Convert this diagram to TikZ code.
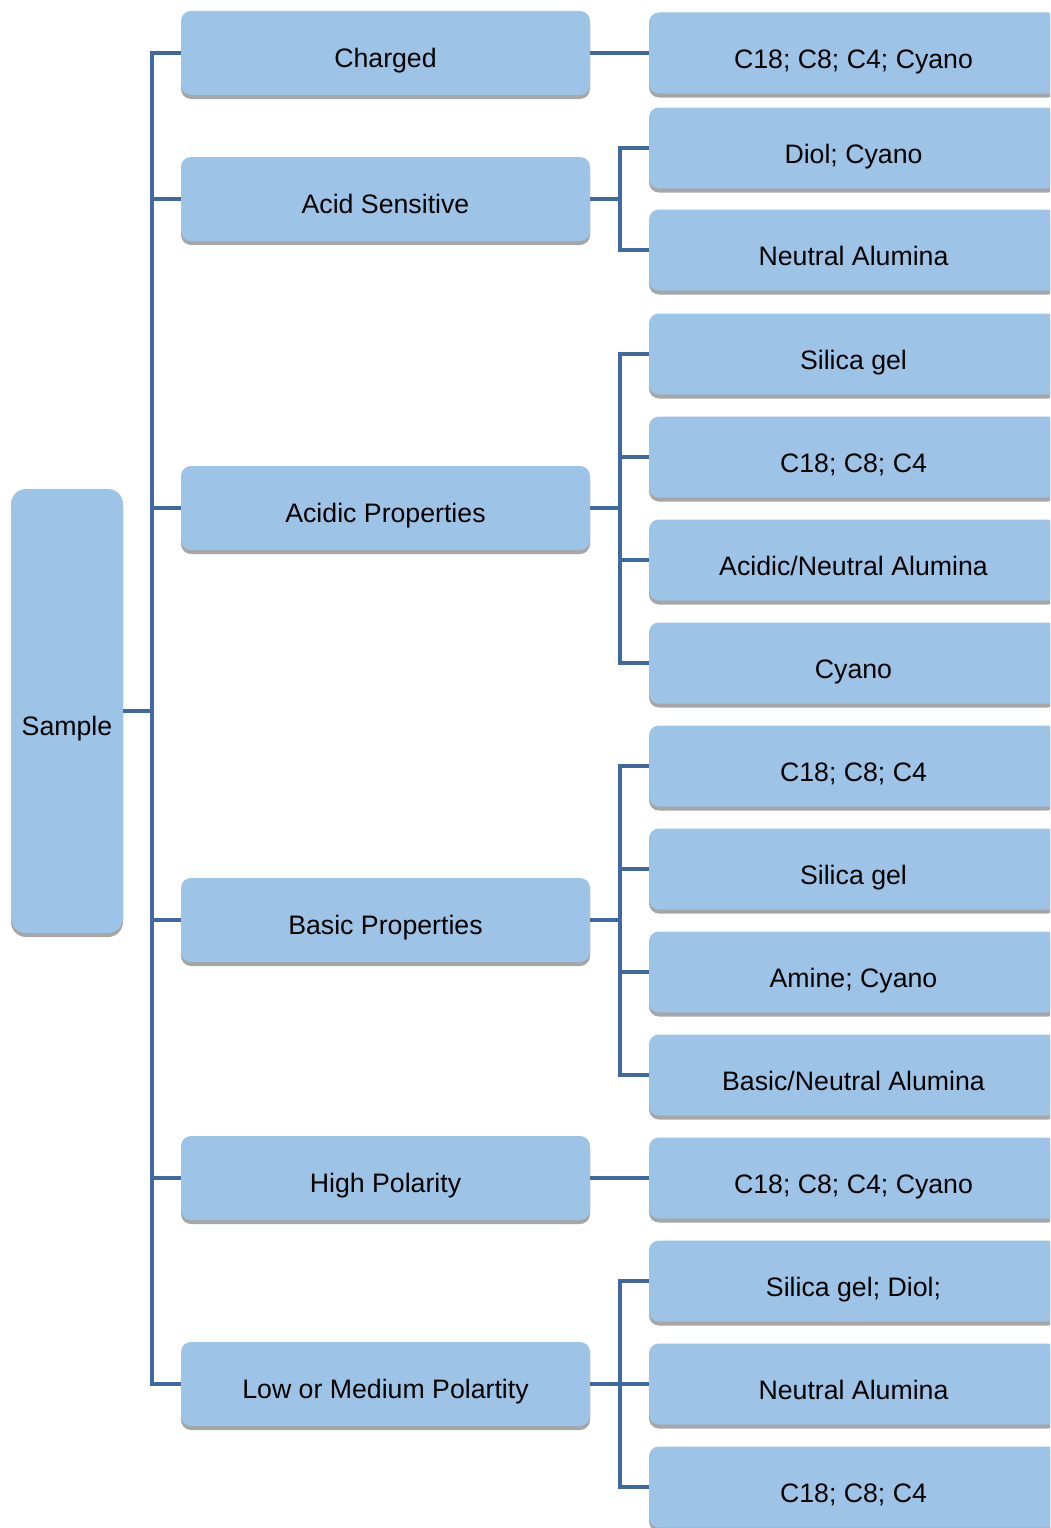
\documentclass[tikz,border=0pt]{standalone}
\usepackage{fontspec}
\setmainfont{Liberation Sans}
\usetikzlibrary{shadows}
\definecolor{boxfill}{RGB}{157,195,230}
\definecolor{connblue}{RGB}{64,106,158}
\definecolor{shadowgray}{RGB}{166,166,166}
\begin{document}
\begin{tikzpicture}[x=1pt,y=-1pt,
  base/.style={fill=boxfill, draw=none, rounded corners=10pt, inner sep=0pt,
    font=\fontsize{26.7}{30}\selectfont, text depth=0pt,
    drop shadow={shadow xshift=0pt, shadow yshift=-4pt, fill=shadowgray, opacity=1}},
  midbox/.style={base, minimum width=409pt, minimum height=84pt, text height=28pt},
  leafbox/.style={base, minimum width=409pt, minimum height=81pt, text height=31pt},
  rootbox/.style={base, rounded corners=15pt, minimum width=112pt, minimum height=444pt, text height=48pt},
  conn/.style={draw=connblue, line width=4pt, line join=miter}]
\clip (0,0) rectangle (1050,1528);
\fill[white] (0,0) rectangle (1050,1528);

\node[rootbox] (sample) at (67,711) {Sample};

\node[midbox] (m1) at (385.5,53) {Charged};
\node[midbox] (m2) at (385.5,199) {Acid Sensitive};
\node[midbox] (m3) at (385.5,508) {Acidic Properties};
\node[midbox] (m4) at (385.5,920) {Basic Properties};
\node[midbox] (m5) at (385.5,1178) {High Polarity};
\node[midbox] (m6) at (385.5,1384) {Low or Medium Polartity};

\node[leafbox] (r1) at (853.5,53) {C18; C8; C4; Cyano};
\node[leafbox] (r2) at (853.5,148) {Diol; Cyano};
\node[leafbox] (r3) at (853.5,250) {Neutral Alumina};
\node[leafbox] (r4) at (853.5,354) {Silica gel};
\node[leafbox] (r5) at (853.5,457) {C18; C8; C4};
\node[leafbox] (r6) at (853.5,560) {Acidic/Neutral Alumina};
\node[leafbox] (r7) at (853.5,663) {Cyano};
\node[leafbox] (r8) at (853.5,766) {C18; C8; C4};
\node[leafbox] (r9) at (853.5,869) {Silica gel};
\node[leafbox] (r10) at (853.5,972) {Amine; Cyano};
\node[leafbox] (r11) at (853.5,1075) {Basic/Neutral Alumina};
\node[leafbox] (r12) at (853.5,1178) {C18; C8; C4; Cyano};
\node[leafbox] (r13) at (853.5,1281) {Silica gel; Diol;};
\node[leafbox] (r14) at (853.5,1384) {Neutral Alumina};
\node[leafbox] (r15) at (853.5,1487) {C18; C8; C4};

\coordinate (tx) at (152,0);
\coordinate (bx) at (620,0);

% trunk
\draw[conn] (sample.east) -- (sample.east -| tx);
\draw[conn] (m1.west) -- (m1.west -| tx) -- (m6.west -| tx) -- (m6.west);
\foreach \m in {m2,m3,m4,m5} \draw[conn] (\m.west -| tx) -- (\m.west);

% second level
\draw[conn] (m1.east) -- (m1.east -| r1.west);
\draw[conn] (m5.east) -- (m5.east -| r12.west);

\draw[conn] (m2.east) -- (m2.east -| bx);
\draw[conn] (r2.west) -- (r2.west -| bx) -- (r3.west -| bx) -- (r3.west);

\draw[conn] (m3.east) -- (m3.east -| bx);
\draw[conn] (r4.west) -- (r4.west -| bx) -- (r7.west -| bx) -- (r7.west);
\foreach \r in {r5,r6} \draw[conn] (\r.west -| bx) -- (\r.west);

\draw[conn] (m4.east) -- (m4.east -| bx);
\draw[conn] (r8.west) -- (r8.west -| bx) -- (r11.west -| bx) -- (r11.west);
\foreach \r in {r9,r10} \draw[conn] (\r.west -| bx) -- (\r.west);

\draw[conn] (m6.east) -- (m6.east -| bx);
\draw[conn] (r13.west) -- (r13.west -| bx) -- (r15.west -| bx) -- (r15.west);
\draw[conn] (r14.west -| bx) -- (r14.west);
\end{tikzpicture}
\end{document}
